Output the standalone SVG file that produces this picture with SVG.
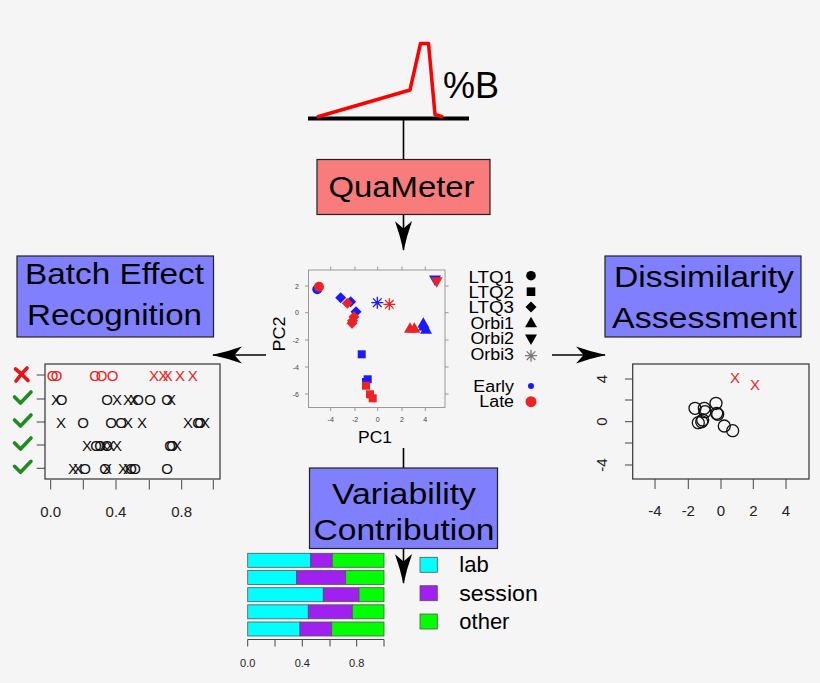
<svg xmlns="http://www.w3.org/2000/svg" width="820" height="683" viewBox="0 0 820 683">
<style>
text{font-family:"Liberation Sans",Arial,sans-serif;fill:#000}
.big{font-size:30px}
.box{stroke:#222;stroke-width:1.2}
.blue{fill:#8080ff}
.conn{stroke:#000;stroke-width:1.6;fill:none}
.ax{stroke:#444;stroke-width:1;fill:none}
.pax{stroke:#999;stroke-width:1;fill:none}
.tl{font-size:7px}
.tl text{fill:#444}
.lg{font-size:16px;text-anchor:end}
.pt{font-size:15px;text-anchor:middle}
.pt text{fill:#111}
.r,.pt.r text{fill:#ee2222}
.b{fill:#1a1aff}
.rs{stroke:#ee2222;stroke-width:1.3}
.bs{stroke:#1a1aff;stroke-width:1.3}
.oc{fill:none;stroke:#111;stroke-width:1.3}
.ck{fill:none;stroke:#1e8c1e;stroke-width:3.6;stroke-linecap:round;stroke-linejoin:round}
.bar{stroke:#555;stroke-width:0.8}
.cy{fill:#00ffff}.pu{fill:#a020f0}.gr{fill:#00ff00}
.ax1{text-anchor:middle}
.ax1 text{fill:#222}
</style>
<defs>
<marker id="ah" markerUnits="userSpaceOnUse" markerWidth="30" markerHeight="18" viewBox="0 0 28 16" refX="27" refY="8" orient="auto">
<path d="M0,0 Q14,5 28,8 Q14,11 0,16 L7,8 Z" fill="#000"/>
</marker>
</defs>
<rect width="820" height="683" fill="#f5f5f5"/>

<g id="gradient">
<line x1="308" y1="118.5" x2="469" y2="118.5" stroke="#000" stroke-width="4"/>
<polyline points="317,117 410,90 420.5,43.5 428.5,43.5 435,114.5 443,117" fill="none" stroke="#ff0000" stroke-width="3.5" stroke-linejoin="round"/>
<text x="443" y="98" font-size="37" textLength="56" lengthAdjust="spacingAndGlyphs">%B</text>
</g>

<g id="connectors">
<line class="conn" x1="403.5" y1="120" x2="403.5" y2="159"/>
<line class="conn" x1="403.5" y1="215" x2="403.5" y2="250" marker-end="url(#ah)"/>
<line class="conn" x1="266" y1="355" x2="213" y2="355" marker-end="url(#ah)"/>
<line class="conn" x1="552" y1="355" x2="605" y2="355" marker-end="url(#ah)"/>
<line class="conn" x1="403.5" y1="448" x2="403.5" y2="468"/>
<line class="conn" x1="403.5" y1="549" x2="403.5" y2="583" marker-end="url(#ah)"/>
</g>

<g id="quameter">
<rect class="box" x="317" y="159.5" width="173" height="55" fill="#f87c7c"/>
<text class="big" x="328.5" y="196.5" font-size="28" textLength="146" lengthAdjust="spacingAndGlyphs">QuaMeter</text>
</g>

<g id="batch">
<rect class="box blue" x="17" y="256" width="196.5" height="81"/>
<text class="big" x="25" y="283.5" textLength="179" lengthAdjust="spacingAndGlyphs">Batch Effect</text>
<text class="big" x="27" y="325" textLength="175" lengthAdjust="spacingAndGlyphs">Recognition</text>
</g>

<g id="dissimilarity">
<rect class="box blue" x="605" y="256" width="196" height="81"/>
<text class="big" x="614" y="286.5" textLength="180" lengthAdjust="spacingAndGlyphs">Dissimilarity</text>
<text class="big" x="612" y="327.5" textLength="185" lengthAdjust="spacingAndGlyphs">Assessment</text>
</g>

<g id="variability">
<rect class="box blue" x="309.5" y="468" width="188" height="80.5"/>
<text class="big" x="332" y="503.5" textLength="144" lengthAdjust="spacingAndGlyphs">Variability</text>
<text class="big" x="313.5" y="540" textLength="181" lengthAdjust="spacingAndGlyphs">Contribution</text>
</g>

<g id="pca">
<rect class="pax" x="308.5" y="270" width="136.5" height="137.5"/>
<path class="pax" d="M330.7,407.5v3.5M355,407.5v3.5M377.7,407.5v3.5M402,407.5v3.5M425.3,407.5v3.5M330.7,270v-3.5M355,270v-3.5M377.7,270v-3.5M402,270v-3.5M425.3,270v-3.5M308.5,286h-3.5M308.5,312.7h-3.5M308.5,340h-3.5M308.5,367h-3.5M308.5,394h-3.5M445,286h3.5M445,312.7h3.5M445,340h3.5M445,367h3.5M445,394h3.5"/>
<g class="tl" text-anchor="middle">
<text x="330.7" y="422">-4</text><text x="355" y="422">-2</text><text x="377.7" y="422">0</text><text x="402" y="422">2</text><text x="425.3" y="422">4</text>
</g>
<g class="tl" text-anchor="end">
<text x="299" y="288.5">2</text><text x="299" y="315.2">0</text><text x="299" y="342.5">-2</text><text x="299" y="369.5">-4</text><text x="299" y="396.5">-6</text>
</g>
<text x="375" y="443" font-size="16" text-anchor="middle" textLength="34" lengthAdjust="spacingAndGlyphs">PC1</text>
<text transform="translate(285,334) rotate(-90)" font-size="16" text-anchor="middle" textLength="35" lengthAdjust="spacingAndGlyphs">PC2</text>
<circle class="b" cx="317.3" cy="289.3" r="5"/>
<circle class="r" cx="319" cy="286.7" r="5"/>
<g class="b">
<polygon points="340.7,292.2 346.2,297.7 340.7,303.2 335.2,297.7"/>
<polygon points="350.7,296.2 356.2,301.7 350.7,307.2 345.2,301.7"/>
<polygon points="356,306.2 361.5,311.7 356,317.2 350.5,311.7"/>
</g>
<g class="r">
<polygon points="347.3,297.8 352.8,303.3 347.3,308.8 341.8,303.3"/>
<polygon points="354,311.2 359.5,316.7 354,322.2 348.5,316.7"/>
<polygon points="352.5,315.2 358,320.7 352.5,326.2 347,320.7"/>
<polygon points="352,317.8 357.5,323.3 352,328.8 346.5,323.3"/>
</g>
<path class="bs" d="M377.3,296.7v12M371.3,302.7h12M373,298.4l8.6,8.6M373,307l8.6,-8.6"/>
<path class="rs" d="M389.3,298.3v12M383.3,304.3h12M385,300l8.6,8.6M385,308.6l8.6,-8.6"/>
<g class="r">
<polygon points="410,322.3 416,332.8 404,332.8"/>
<polygon points="414.3,322.3 420.3,332.8 408.3,332.8"/>
</g>
<g class="b">
<polygon points="423.3,317.3 429.3,327.8 417.3,327.8"/>
<polygon points="426,323.3 432,333.8 420,333.8"/>
<polygon points="424,320 430,330.5 418,330.5"/>
<polygon points="435,286 441,275.5 429,275.5"/>
</g>
<polygon class="r" points="436.7,287.7 442.7,277.2 430.7,277.2"/>
<g class="b">
<rect x="357.7" y="350.3" width="8" height="8"/>
<rect x="363.7" y="375.3" width="8" height="8"/>
<rect x="362" y="378" width="8" height="8"/>
</g>
<g class="r">
<rect x="362" y="381.7" width="8" height="8"/>
<rect x="366" y="390.3" width="8" height="8"/>
<rect x="368.7" y="394.3" width="8" height="8"/>
</g>
<text class="lg" x="514" y="282.7" textLength="45.5" lengthAdjust="spacingAndGlyphs">LTQ1</text>
<text class="lg" x="514" y="297.8" textLength="45.5" lengthAdjust="spacingAndGlyphs">LTQ2</text>
<text class="lg" x="514" y="313.2" textLength="45.5" lengthAdjust="spacingAndGlyphs">LTQ3</text>
<text class="lg" x="514" y="328.6" textLength="43.5" lengthAdjust="spacingAndGlyphs">Orbi1</text>
<text class="lg" x="514" y="344.2" textLength="43.5" lengthAdjust="spacingAndGlyphs">Orbi2</text>
<text class="lg" x="514" y="360" textLength="43.5" lengthAdjust="spacingAndGlyphs">Orbi3</text>
<text class="lg" x="514" y="391.7" textLength="40.7" lengthAdjust="spacingAndGlyphs">Early</text>
<text class="lg" x="514" y="407.3" textLength="34.7" lengthAdjust="spacingAndGlyphs">Late</text>
<circle cx="531" cy="275.7" r="4.8"/>
<rect x="526.7" y="287.4" width="8.6" height="8.6"/>
<polygon points="531,301.5 536.5,307 531,312.5 525.5,307"/>
<polygon points="531,316.7 537,327.2 525,327.2"/>
<polygon points="531,345 537,334.5 525,334.5"/>
<path d="M531,349.7v12M525,355.7h12M526.7,351.4l8.6,8.6M526.7,360l8.6,-8.6" stroke="#777" stroke-width="1.3"/>
<circle class="b" cx="531" cy="386" r="3"/>
<circle class="r" cx="531" cy="401.7" r="5.5"/>
</g>

<g id="batchplot">
<rect x="45" y="364" width="175" height="115" fill="none" stroke="#333" stroke-width="1.2"/>
<path class="ax" d="M36.7,375H45M36.7,399H45M36.7,422H45M36.7,445H45M36.7,468.3H45M50.7,480v9.5M83.3,480v9.5M116,480v9.5M149.3,480v9.5M181.7,480v9.5M213.3,480v9.5"/>
<g class="ax1" font-size="15">
<text x="50.7" y="516.7">0.0</text><text x="116" y="516.7">0.4</text><text x="181.7" y="516.7">0.8</text>
</g>
<path d="M15.5,369 Q22,374 28,380.5M27,368 Q21,374 16,381" fill="none" stroke="#ee1111" stroke-width="3.6" stroke-linecap="round"/>
<path class="ck" d="M14.5,397 L20.5,403 L31,392"/>
<path class="ck" d="M14.5,420 L20.5,426 L31,415"/>
<path class="ck" d="M14.5,443 L20.5,449 L31,438"/>
<path class="ck" d="M14.5,466.3 L20.5,472.3 L31,461.3"/>
<g class="pt r">
<text x="52.7" y="380.5">O</text><text x="56.7" y="380.5">O</text><text x="95" y="380.5">O</text><text x="101.7" y="380.5">O</text><text x="112.7" y="380.5">O</text>
<text x="154" y="380.5">X</text><text x="163.3" y="380.5">X</text><text x="167.7" y="380.5">X</text><text x="180" y="380.5">X</text><text x="192.7" y="380.5">X</text>
</g>
<g class="pt">
<text x="56" y="404.5">X</text><text x="61.5" y="404.5">O</text><text x="107" y="404.5">O</text><text x="117" y="404.5">X</text><text x="128" y="404.5">X</text><text x="134" y="404.5">X</text><text x="138" y="404.5">O</text><text x="150" y="404.5">O</text><text x="167" y="404.5">O</text><text x="171" y="404.5">X</text>
<text x="61" y="427.5">X</text><text x="83" y="427.5">O</text><text x="111" y="427.5">O</text><text x="121" y="427.5">O</text><text x="128" y="427.5">X</text><text x="142" y="427.5">X</text><text x="188" y="427.5">X</text><text x="198" y="427.5">O</text><text x="200" y="427.5">O</text><text x="205" y="427.5">X</text>
<text x="87" y="450.5">X</text><text x="96" y="450.5">O</text><text x="100" y="450.5">O</text><text x="104" y="450.5">X</text><text x="107" y="450.5">O</text><text x="110" y="450.5">X</text><text x="117" y="450.5">X</text><text x="170" y="450.5">O</text><text x="172" y="450.5">O</text><text x="177" y="450.5">X</text>
<text x="73" y="473.8">X</text><text x="78" y="473.8">X</text><text x="85" y="473.8">O</text><text x="105" y="473.8">O</text><text x="107" y="473.8">X</text><text x="123" y="473.8">X</text><text x="128" y="473.8">X</text><text x="131" y="473.8">O</text><text x="135" y="473.8">O</text><text x="167" y="473.8">O</text>
</g>
</g>

<g id="dissimplot">
<rect x="632.7" y="364" width="176.3" height="115" fill="none" stroke="#333" stroke-width="1.2"/>
<path class="ax" d="M625,379h7.7M625,400h7.7M625,421.7h7.7M625,443h7.7M625,465h7.7M655,479v10M688.3,479v10M721,479v10M753.3,479v10M786,479v10"/>
<g class="ax1" font-size="15">
<text x="655" y="516">-4</text><text x="688.3" y="516">-2</text><text x="721" y="516">0</text><text x="753.3" y="516">2</text><text x="786" y="516">4</text>
<text transform="translate(607,379) rotate(-90)">4</text>
<text transform="translate(607,421.7) rotate(-90)">0</text>
<text transform="translate(607,465) rotate(-90)">-4</text>
</g>
<g>
<circle class="oc" cx="695" cy="408.3" r="6"/>
<circle class="oc" cx="704.3" cy="408.3" r="6"/>
<circle class="oc" cx="705" cy="411.7" r="6"/>
<circle class="oc" cx="716" cy="403.3" r="6"/>
<circle class="oc" cx="716.7" cy="413.3" r="6"/>
<circle class="oc" cx="717.7" cy="414.3" r="6"/>
<circle class="oc" cx="698.3" cy="422.7" r="6"/>
<circle class="oc" cx="701.7" cy="421.7" r="6"/>
<circle class="oc" cx="702.7" cy="420" r="6"/>
<circle class="oc" cx="724.3" cy="426" r="6"/>
<circle class="oc" cx="732.7" cy="430.7" r="6"/>
</g>
<g class="pt r">
<text x="735" y="383">X</text><text x="755" y="389.8">X</text>
</g>
</g>

<g id="barchart">
<rect class="bar cy" x="247.7" y="553.3" width="63" height="14"/><rect class="bar pu" x="310.7" y="553.3" width="21.6" height="14"/><rect class="bar gr" x="332.3" y="553.3" width="51.7" height="14"/>
<rect class="bar cy" x="247.7" y="570.5" width="49" height="14"/><rect class="bar pu" x="296.7" y="570.5" width="49" height="14"/><rect class="bar gr" x="345.7" y="570.5" width="38.3" height="14"/>
<rect class="bar cy" x="247.7" y="587.7" width="75.6" height="14"/><rect class="bar pu" x="323.3" y="587.7" width="35.7" height="14"/><rect class="bar gr" x="359" y="587.7" width="25" height="14"/>
<rect class="bar cy" x="247.7" y="604.8" width="60.6" height="14"/><rect class="bar pu" x="308.3" y="604.8" width="44" height="14"/><rect class="bar gr" x="352.3" y="604.8" width="31.7" height="14"/>
<rect class="bar cy" x="247.7" y="622" width="52.3" height="14"/><rect class="bar pu" x="300" y="622" width="31.7" height="14"/><rect class="bar gr" x="331.7" y="622" width="52.3" height="14"/>
<path class="ax" d="M247.7,639.5H384M247.7,639.5v7M275,639.5v7M302.3,639.5v7M330,639.5v7M356.7,639.5v7M384,639.5v7"/>
<g class="ax1" font-size="11">
<text x="247.7" y="667">0.0</text><text x="302.3" y="667">0.4</text><text x="356.7" y="667">0.8</text>
</g>
</g>

<g id="barlegend">
<rect class="bar cy" x="420" y="557.3" width="17.3" height="15" stroke="#222"/>
<rect class="bar pu" x="420" y="585.7" width="17.3" height="15" stroke="#222"/>
<rect class="bar gr" x="420" y="614" width="17.3" height="15" stroke="#222"/>
<text x="459.3" y="572.3" font-size="22">lab</text>
<text x="459.3" y="601" font-size="22" textLength="78.5" lengthAdjust="spacingAndGlyphs">session</text>
<text x="459.3" y="629" font-size="22">other</text>
</g>
</svg>
